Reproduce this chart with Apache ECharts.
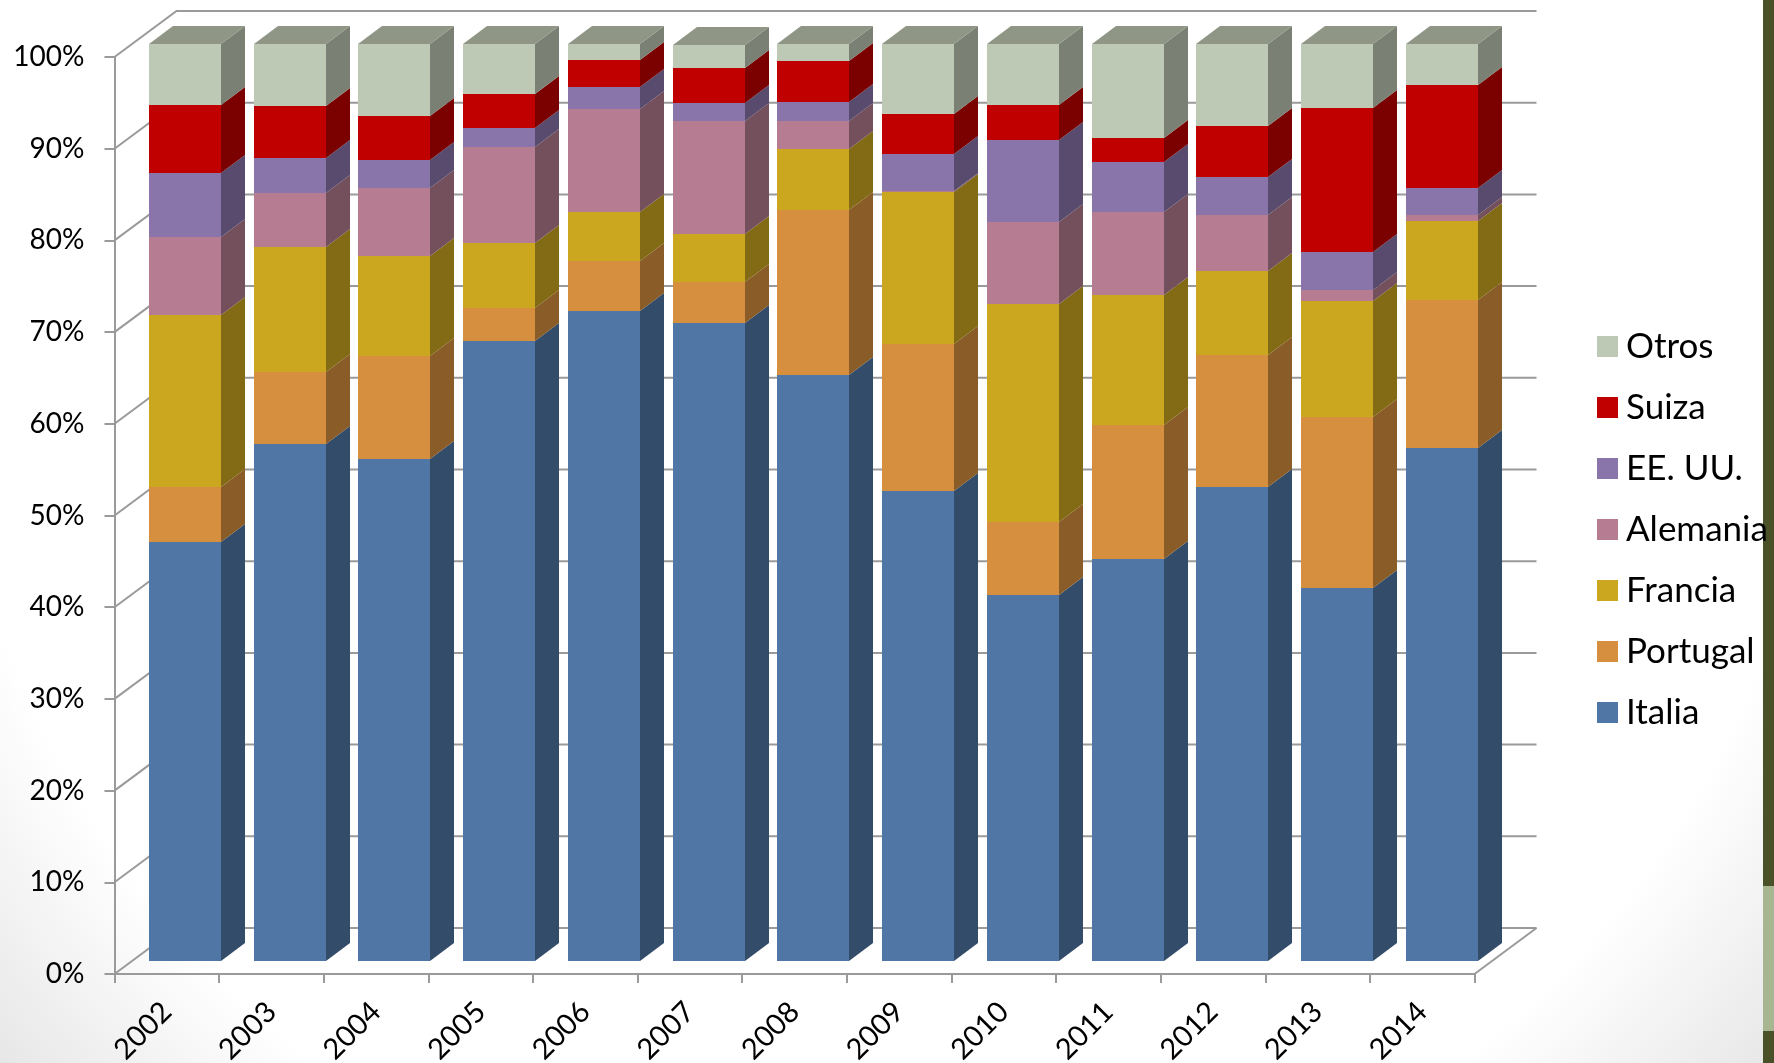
<!DOCTYPE html>
<html>
<head>
<meta charset="utf-8">
<style>html,body{margin:0;padding:0;background:#fff;overflow:hidden}#c{width:1774px;height:1063px}</style>
<script src="https://cdn.jsdelivr.net/npm/echarts@6/dist/echarts.min.js"></script>
</head>
<body>
<div id="c"></div>
<script>
const years = ['2002','2003','2004','2005','2006','2007','2008','2009','2010','2011','2012','2013','2014'];
const yTicks = [0,10,20,30,40,50,60,70,80,90,100];
const seriesNames = ['Italia','Portugal','Francia','Alemania','EE. UU.','Suiza','Otros'];
const italia   = [45.7,56.4,54.7,67.6,70.9,69.6,63.9,51.3,39.9,43.8,51.7,40.7,55.9];
const portugal = [6.0,7.8,11.3,3.6,5.4,4.4,18.0,16.0,8.0,14.7,14.4,18.6,16.2];
const francia  = [18.8,13.7,10.9,7.1,5.4,5.3,6.7,16.6,23.8,14.1,9.1,12.7,8.6];
const alemania = [8.5,5.8,7.4,10.5,11.2,12.3,3.0,0.1,8.9,9.1,6.1,1.2,0.6];
const eeuu     = [6.9,3.9,3.0,2.0,2.4,2.0,2.1,4.0,8.9,5.4,4.2,4.1,3.0];
const suiza    = [7.5,5.6,4.9,3.8,3.0,3.8,4.4,4.4,3.9,2.6,5.6,15.7,11.2];
const otros    = [6.6,6.8,7.8,5.4,1.7,2.5,1.9,7.6,6.6,10.3,8.9,7.0,4.5];
const seriesValues = [italia,portugal,francia,alemania,eeuu,suiza,otros];
const colors = ['#4f76a4','#d68f3f','#cba720','#b67d92','#8a75aa','#c00000','#bec9b5'];

const depth = {wallX:62, wallY:46, floorX:18, floorY:13, barX:24, barY:18, drift:0.15};
const barW = 72;
const lineColor = '#9a9a9a';

function shade(hex,f){
  const n=parseInt(hex.slice(1),16);
  const r=Math.round((n>>16&255)*f),g=Math.round((n>>8&255)*f),b=Math.round((n&255)*f);
  return 'rgb('+r+','+g+','+b+')';
}

const chart = echarts.init(document.getElementById('c'),null,{renderer:'canvas'});

function makeBarSeries(i){
  const data = years.map((y,k)=>{
    let s=0; for(let j=0;j<i;j++) s+=seriesValues[j][k];
    return [k,s,s+seriesValues[i][k]];
  });
  const last = i===seriesValues.length-1;
  return {
    name:seriesNames[i], type:'custom', data, z:3, silent:true,
    itemStyle:{color:colors[i]},
    encode:{x:0,y:[1,2]},
    renderItem(params,api){
      const a=api.coord([api.value(0),api.value(1)]);
      const b=api.coord([api.value(0),api.value(2)]);
      const l=Math.round(a[0]+depth.floorX-barW/2+params.dataIndex*depth.drift), r=l+barW;
      const y0=Math.round(a[1]-depth.floorY), y1=Math.round(b[1]-depth.floorY);
      const dx=depth.barX, dy=depth.barY;
      const kids=[
        {type:'polygon',shape:{points:[[r,y0],[r+dx,y0-dy],[r+dx,y1-dy],[r,y1]]},style:{fill:shade(colors[i],0.64)}},
        {type:'rect',shape:{x:l,y:y1,width:barW,height:y0-y1},style:{fill:colors[i]}}
      ];
      if(last) kids.push({type:'polygon',shape:{points:[[l,y1],[l+dx,y1-dy],[r+dx,y1-dy],[r,y1]]},style:{fill:'#8f9685'}});
      return {type:'group',children:kids};
    }
  };
}

const wallSeries = {
  name:'wall', type:'custom', z:1, silent:true,
  data:yTicks.map(v=>[0,v]),
  encode:{y:1},
  renderItem(params,api){
    const c=params.coordSys;
    const v=api.value(1);
    const y=api.coord([0,v])[1];
    const x0=c.x, x1=c.x+c.width;
    const st={stroke:lineColor,lineWidth:2,fill:null};
    const kids=[{type:'polyline',shape:{points:[[x0,y],[x0+depth.wallX,y-depth.wallY],[x1+depth.wallX,y-depth.wallY]]},style:st}];
    if(v===0) kids.push({type:'line',shape:{x1:x1,y1:y,x2:x1+depth.wallX,y2:y-depth.wallY},style:st});
    return {type:'group',children:kids};
  }
};

chart.setOption({
  animation:false,
  backgroundColor:new echarts.graphic.RadialGradient(0.5,0.3,1.13,[
    {offset:0,color:'#ffffff'},{offset:0.78,color:'#ffffff'},{offset:1,color:'#e2e2e2'}]),
  textStyle:{fontFamily:'Lato'},
  grid:{left:114.5,top:57,width:1360,height:917,containLabel:false,outerBoundsMode:'none'},
  xAxis:{type:'category',data:years,boundaryGap:true,
    axisLine:{lineStyle:{color:lineColor,width:2}},
    axisTick:{show:true,length:9,interval:0,lineStyle:{color:lineColor,width:2}},
    axisLabel:{interval:0,rotate:45,margin:33,fontSize:29,color:'#000',fontFamily:'Lato'},
    splitLine:{show:false}},
  yAxis:{type:'value',min:0,max:100,interval:10,
    axisLine:{show:true,lineStyle:{color:lineColor,width:2}},
    axisTick:{show:true,length:10,lineStyle:{color:lineColor,width:2}},
    axisLabel:{margin:30,fontSize:28,color:'#000',fontFamily:'Lato',formatter:'{value}%'},
    splitLine:{show:false}},
  legend:{orient:'vertical',left:1597,top:329,padding:0,itemWidth:21,itemHeight:21,itemGap:26,icon:'rect',
    selectedMode:false,data:seriesNames.slice().reverse(),
    textStyle:{fontSize:35,color:'#000',fontFamily:'Lato',padding:[0,0,0,3]}},
  graphic:[
    {type:'rect',z:0,shape:{x:1763,y:0,width:11,height:1063},style:{fill:'#4a5028'}},
    {type:'rect',z:0,shape:{x:1763,y:886,width:11,height:145},style:{fill:'#a7b591'}}
  ],
  series:[wallSeries].concat(seriesNames.map((_,i)=>makeBarSeries(i)))
});
</script>
</body>
</html>
